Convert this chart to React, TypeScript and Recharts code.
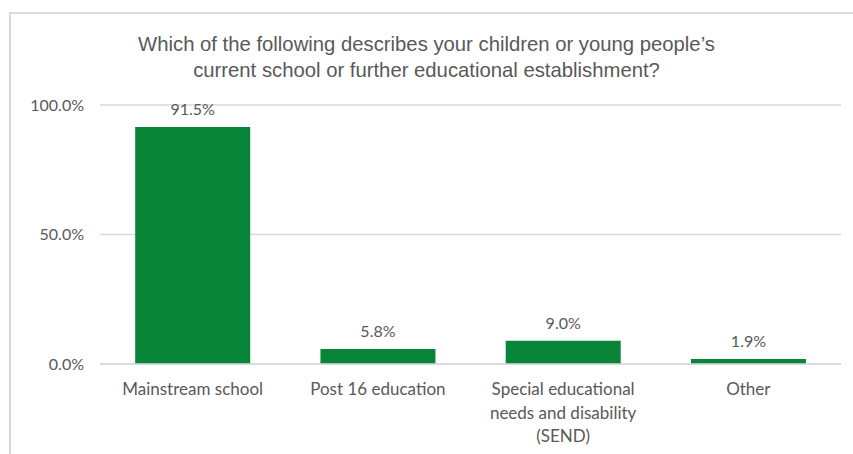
import { Bar, BarChart, CartesianGrid, LabelList, XAxis, YAxis } from "recharts";

const categories = [
  "Mainstream school",
  "Post 16 education",
  "Special educational needs and disability (SEND)",
  "Other",
];
const shares = [91.5, 5.8, 9.0, 1.9];
const tickLines: Record<string, string[]> = {
  "Special educational needs and disability (SEND)": [
    "Special educational",
    "needs and disability",
    "(SEND)",
  ],
};
const yTicks = [0, 50, 100];
const titleLines = [
  "Which of the following describes your children or young people\u2019s",
  "current school or further educational establishment?",
];

const GREEN = "#088538";
const GREY = "#595959";
const FONT = "Lato, 'Open Sans', sans-serif";

const data = categories.map((name, i) => ({ name, value: shares[i] }));

const CategoryTick = ({ x, y, payload }: any) => {
  const lines = tickLines[payload.value] || [payload.value];
  return (
    <text x={x} y={y + 23} textAnchor="middle" fill={GREY} fontSize={17} fontFamily={FONT}>
      {lines.map((line, i) => (
        <tspan key={i} x={x} dy={i === 0 ? 0 : 23.5}>
          {line}
        </tspan>
      ))}
    </text>
  );
};

const App = () => {
  return (
    <div style={{ position: "absolute", left: 0, top: 0, width: 853, height: 454, overflow: "hidden", background: "#fff" }}>
      <div
        style={{
          position: "absolute",
          left: 9,
          top: 12,
          width: 900,
          height: 500,
          border: "2px solid #d9d9d9",
        }}
      />
      <div
        style={{
          position: "absolute",
          left: 0,
          top: 31,
          width: 853,
          textAlign: "center",
          color: GREY,
          fontFamily: "'Liberation Sans', Arial, sans-serif",
          fontSize: 20.3,
          lineHeight: "26px",
        }}
      >
        {titleLines.map((t, i) => (
          <div key={i}>{t}</div>
        ))}
      </div>
      <div style={{ position: "absolute", left: 0, top: 0 }}>
        <BarChart
          width={853}
          height={454}
          data={data}
          margin={{ top: 105, right: 12, bottom: 0, left: 0 }}
          barCategoryGap="19%"
        >
          <CartesianGrid vertical={false} stroke="#d9d9d9" strokeWidth={1.5} />
          <XAxis
            dataKey="name"
            height={90}
            axisLine={{ stroke: "#d9d9d9", strokeWidth: 1.5 }}
            tickLine={false}
            interval={0}
            tick={<CategoryTick />}
          />
          <YAxis
            width={100}
            domain={[0, 100]}
            ticks={yTicks}
            axisLine={false}
            tickLine={false}
            tickMargin={10}
            tickFormatter={(v: number) => `${v.toFixed(1)}%`}
            tick={{ fill: GREY, fontSize: 16, fontFamily: FONT }}
          />
          <Bar dataKey="value" fill={GREEN} isAnimationActive={false}>
            <LabelList
              dataKey="value"
              position="top"
              offset={12}
              formatter={(v: any) => `${Number(v).toFixed(1)}%`}
              style={{ fill: GREY, fontSize: 16, fontFamily: FONT }}
            />
          </Bar>
        </BarChart>
      </div>
    </div>
  );
};

export default App;
